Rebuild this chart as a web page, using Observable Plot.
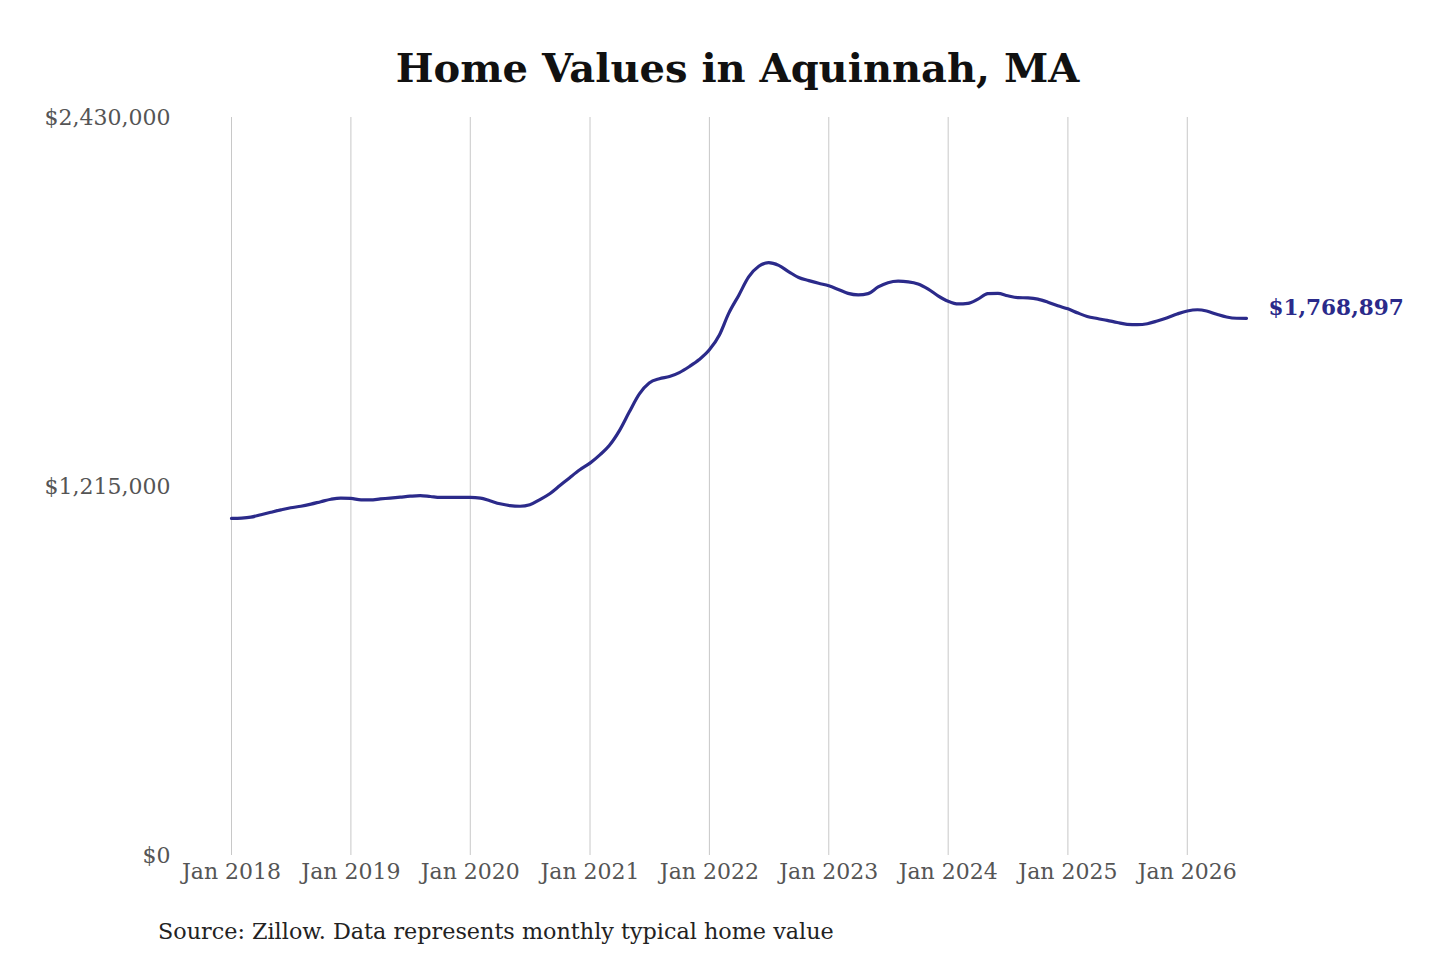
<!DOCTYPE html>
<html>
<head>
<meta charset="utf-8">
<script src="https://cdn.jsdelivr.net/npm/d3@7"></script>
<script src="https://cdn.jsdelivr.net/npm/@observablehq/plot@0.6"></script>
<style>
  html, body { margin: 0; padding: 0; background: #fff; }
  body { width: 1440px; height: 960px; position: relative; overflow: hidden; font-family: "DejaVu Serif", serif; }
  #title { position: absolute; left: 0; top: 40px; width: 1475px; text-align: center; font-size: 40px; font-weight: bold; color: #111; line-height: 56px; }
  #chart { position: absolute; left: 0; top: 100px; }
  #caption { position: absolute; left: 158px; top: 915px; font-size: 22.3px; color: #222; line-height: 32px; }
</style>
</head>
<body>
<div id="title">Home Values in Aquinnah, MA</div>
<div id="chart"></div>
<div id="caption">Source: Zillow. Data represents monthly typical home value</div>
<script>
// Monthly typical home value, starting January 2018
const startYear = 2018;
const values = [
  1110000, 1111000, 1114000, 1122000, 1130000, 1138000, 1145000, 1150000, 1157000, 1165000, 1173000, 1177000,
  1176000, 1171000, 1171000, 1174000, 1177000, 1180000, 1183000, 1185000, 1182000, 1179000, 1179000, 1179000,
  1179000, 1177000, 1168000, 1158000, 1152000, 1150000, 1155000, 1172000, 1192000, 1218000, 1245000, 1270000,
  1292000, 1320000, 1350000, 1399000, 1460000, 1520000, 1556000, 1570000, 1577000, 1590000, 1610000, 1633000,
  1665000, 1715000, 1785000, 1845000, 1905000, 1940000, 1952000, 1943000, 1922000, 1903000, 1893000, 1884000,
  1876000, 1863000, 1851000, 1846000, 1850000, 1872000, 1886000, 1891000, 1889000, 1882000, 1865000, 1843000,
  1825000, 1816000, 1818000, 1832000, 1850000, 1851000, 1843000, 1837000, 1836000, 1832000, 1822000, 1810000,
  1800000, 1786000, 1775000, 1768000, 1762000, 1755000, 1749000, 1748000, 1751000, 1760000, 1771000, 1783000,
  1793000, 1797000, 1793000, 1782000, 1773000, 1769000, 1768897
];
const yTicks = [0, 1215000, 2430000];
const xTickYears = [2018, 2019, 2020, 2021, 2022, 2023, 2024, 2025, 2026];
const endLabel = "$1,768,897";
const lineColor = "#2b2a8a";

const data = values.map((v, i) => ({date: new Date(Date.UTC(startYear, i, 1)), value: v}));
const xTicks = xTickYears.map(y => new Date(Date.UTC(y, 0, 1)));
const last = data[data.length - 1];

const chart = Plot.plot({
  width: 1440,
  height: 795,
  marginLeft: 231,
  marginRight: 194,
  marginTop: 17,
  marginBottom: 40,
  style: {fontFamily: "DejaVu Serif, serif", fontSize: "22px", color: "#555", background: "#fff"},
  x: {type: "utc", domain: [data[0].date, last.date], label: null},
  y: {domain: [0, 2430000], label: null},
  marks: [
    Plot.ruleX(xTicks, {x: d => d, y1: 0, y2: 2430000, stroke: "#c8c8c8", strokeWidth: 1}),
    Plot.axisX({ticks: xTicks, tickSize: 0, tickPadding: 8, label: null, tickFormat: d => "Jan " + d.getUTCFullYear(), fill: "#555", fontSize: 22}),
    Plot.axisY({ticks: yTicks, tickSize: 0, tickPadding: 61, label: null, tickFormat: d3.format("$,"), fill: "#555", fontSize: 22}),
    Plot.lineY(data, {x: "date", y: "value", stroke: lineColor, strokeWidth: 3.2, curve: "monotone-x"}),
    Plot.text([last], {x: "date", y: "value", text: () => endLabel, textAnchor: "start", dx: 22, dy: -10, fill: lineColor, fontWeight: "bold", fontSize: 21.6})
  ]
});
document.getElementById("chart").appendChild(chart);
</script>
</body>
</html>
